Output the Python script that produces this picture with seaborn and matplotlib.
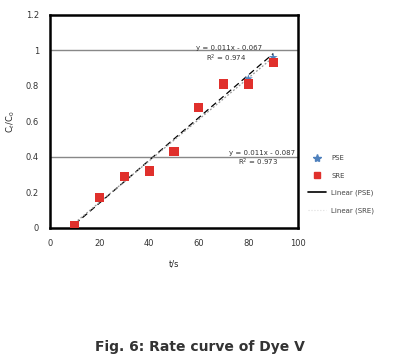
import numpy as np
import pandas as pd
import matplotlib
matplotlib.use("Agg")
import matplotlib.pyplot as plt
import seaborn as sns
from matplotlib.lines import Line2D

sns.set_style("white")
plt.rcParams['font.family'] = ['DejaVu Sans']

# data
time = [10, 20, 30, 40, 50, 60, 70, 80, 90]
pse = [0.01, 0.17, 0.29, 0.32, 0.43, 0.68, 0.81, 0.84, 0.96]
sre = [0.01, 0.17, 0.29, 0.32, 0.43, 0.68, 0.81, 0.81, 0.93]
x_ticks = [0, 20, 40, 60, 80, 100]
y_ticks = [0, 0.2, 0.4, 0.6, 0.8, 1, 1.2]
y_tick_labels = ["0", "0.2", "0.4", "0.6", "0.8", "1", "1.2"]

df = pd.DataFrame({
    'time': time + time,
    'value': pse + sre,
    'series': ['PSE'] * len(time) + ['SRE'] * len(time)})

blue = '#4f81bd'
red = '#e0302c'

fig = plt.figure(figsize=(4, 3.64), dpi=100)
ax = fig.add_axes([0.125, 0.374, 0.62, 0.585])

# reference lines
for yv in [0.4, 1.0]:
    ax.axhline(yv, color='#888888', lw=1, zorder=1)

# trend lines
sns.regplot(x=time, y=pse, ax=ax, scatter=False, ci=None,
            line_kws=dict(color='black', lw=0.9, ls=(0, (5, 3)), zorder=2))
sns.regplot(x=time, y=sre, ax=ax, scatter=False, ci=None,
            line_kws=dict(color='#999999', lw=0.9, ls=(0, (1.5, 1.5)), zorder=2))

sns.scatterplot(data=df, x='time', y='value', hue='series', style='series',
                palette={'PSE': blue, 'SRE': red},
                markers={'PSE': '*', 'SRE': 's'},
                s=45, edgecolor='none', legend=False, ax=ax, zorder=3)

ax.set_xlim(0, 100)
ax.set_ylim(0, 1.2)
ax.set_xticks(x_ticks)
ax.set_yticks(y_ticks)
ax.set_yticklabels(y_tick_labels)
ax.tick_params(labelsize=6, colors='#333333', direction='out', length=3, width=0.8, pad=5)
ax.set_xlabel('t/s', fontsize=6, labelpad=8)
ax.set_ylabel('C$_t$/C$_0$', fontsize=6, labelpad=6)
for sp in ax.spines.values():
    sp.set_linewidth(1.8)
    sp.set_color('black')

ax.text(59, 1.005, 'y = 0.011x - 0.067', fontsize=5, color='#333333')
ax.text(63, 0.94, 'R$^2$ = 0.974', fontsize=5, color='#333333')
ax.text(72, 0.41, 'y = 0.011x - 0.087', fontsize=5, color='#333333')
ax.text(76, 0.35, 'R$^2$ = 0.973', fontsize=5, color='#333333')

handles = [
    Line2D([], [], marker='*', color=blue, ls='none', ms=6),
    Line2D([], [], marker='s', color=red, ls='none', ms=5),
    Line2D([], [], color='black', lw=1.2),
    Line2D([], [], color='#dddddd', lw=0.8, ls=':'),
]
labels = ['PSE', 'SRE', 'Linear (PSE)', 'Linear (SRE)']
fig.legend(handles, labels, loc='upper left', bbox_to_anchor=(0.755, 0.59),
           frameon=False, fontsize=5, handlelength=2.5, labelspacing=1.6,
           labelcolor='#444444')

fig.text(0.5, 0.035, 'Fig. 6: Rate curve of Dye V', ha='center',
         fontsize=10, fontweight='bold', color='#333333')

fig.savefig('out.png', dpi=100)
